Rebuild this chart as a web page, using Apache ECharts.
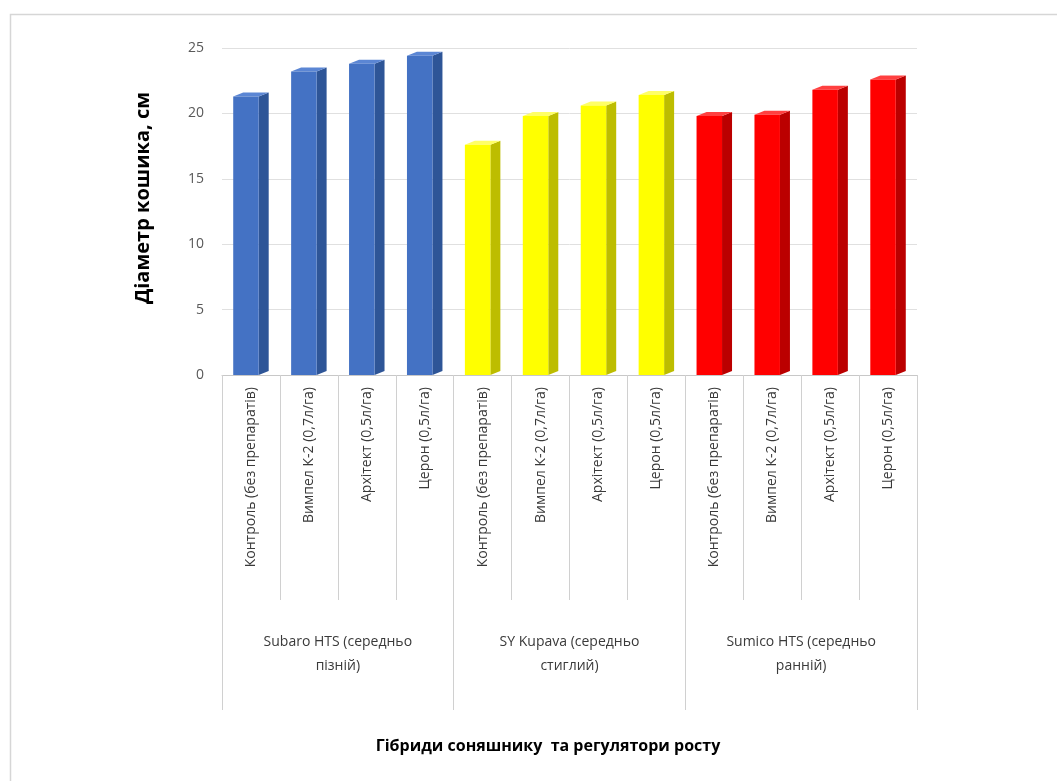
<!DOCTYPE html>
<html>
<head>
<meta charset="utf-8">
<script src="https://cdn.jsdelivr.net/npm/echarts@6/dist/echarts.min.js"></script>
<style>
html,body{margin:0;padding:0;background:#fff;}
#chart{width:1057px;height:781px;}
</style>
</head>
<body>
<div id="chart"></div>
<script>
// ---- data ----
const categories = [
  'Контроль (без препаратів)', 'Вимпел К-2 (0,7л/га)', 'Архітект (0,5л/га)', 'Церон (0,5л/га)',
  'Контроль (без препаратів)', 'Вимпел К-2 (0,7л/га)', 'Архітект (0,5л/га)', 'Церон (0,5л/га)',
  'Контроль (без препаратів)', 'Вимпел К-2 (0,7л/га)', 'Архітект (0,5л/га)', 'Церон (0,5л/га)'
];
const groups = ['Subaro HTS (середньо\nпізній)', 'SY Kupava (середньо\nстиглий)', 'Sumico HTS (середньо\nранній)'];
const subaroValues = [21.3, 23.2, 23.8, 24.4];
const kupavaValues = [17.6, 19.8, 20.6, 21.4];
const sumicoValues = [19.8, 19.9, 21.8, 22.6];
const yTicks = [0, 5, 10, 15, 20, 25];

const groupColors = [
  {front: '#4472C4', side: '#2E5597', top: '#5B86D4'},
  {front: '#FFFF00', side: '#BDBD00', top: '#FFFF66'},
  {front: '#FF0000', side: '#BB0000', top: '#FF4040'}
];

const allValues = subaroValues.concat(kupavaValues, sumicoValues);
const seriesData = allValues.map((v, i) => [i, v, Math.floor(i / 4)]);

const chart = echarts.init(document.getElementById('chart'));
const FONT = '"Open Sans", "DejaVu Sans", sans-serif';

function renderItem(params, api) {
  const idx = api.value(0);
  const val = api.value(1);
  const g = api.value(2);
  const base = api.coord([idx, 0]);
  const top = api.coord([idx, val]);
  const band = api.size([1, 0])[0];
  const bw = band * 0.44;
  const d = 10, dy = 4;
  const x0 = base[0] - bw / 2 - d / 2;
  const x1 = x0 + bw;
  const c = groupColors[g];
  return {
    type: 'group',
    children: [
      {type: 'polygon', shape: {points: [[x1, top[1]], [x1 + d, top[1] - dy], [x1 + d, base[1] - dy], [x1, base[1]]]},
       style: {fill: c.side}},
      {type: 'polygon', shape: {points: [[x0, top[1]], [x0 + d, top[1] - dy], [x1 + d, top[1] - dy], [x1, top[1]]]},
       style: {fill: c.top}},
      {type: 'rect', shape: {x: x0, y: top[1], width: bw, height: base[1] - top[1]},
       style: {fill: c.front}}
    ]
  };
}

const option = {
  backgroundColor: '#ffffff',
  animation: false,
  graphic: [
    {type: 'rect', left: 8, top: 12, shape: {width: 1100, height: 800},
     style: {fill: 'none', stroke: '#d6d6d6', lineWidth: 1.5}, z: -1},
    {type: 'text', x: 548, y: 746,
     style: {text: 'Гібриди соняшнику  та регулятори росту', font: 'bold 16px ' + FONT, fill: '#000', textAlign: 'center', textVerticalAlign: 'middle'}},
    {type: 'text', x: 143, y: 198, rotation: Math.PI / 2,
     style: {text: 'Діаметр кошика, см', font: 'bold 20px ' + FONT, fill: '#000', textAlign: 'center', textVerticalAlign: 'middle'}}
  ],
  grid: {left: 222, right: 140, top: 48, bottom: 406},
  xAxis: [
    {
      type: 'category',
      data: categories,
      axisLine: {show: true, lineStyle: {color: '#c8c8c8'}},
      axisTick: {show: true, length: 225, lineStyle: {color: '#d0d0d0'}},
      axisLabel: {rotate: 90, interval: 0, margin: 12, color: '#3a3a3a', fontSize: 14, fontFamily: FONT}
    },
    {
      type: 'category',
      data: groups,
      position: 'bottom',
      axisLine: {show: false},
      axisTick: {show: true, length: 335, lineStyle: {color: '#d0d0d0'}},
      axisLabel: {interval: 0, margin: 255, color: '#3a3a3a', fontSize: 14, lineHeight: 24, fontFamily: FONT}
    }
  ],
  yAxis: {
    type: 'value',
    min: 0, max: 25, interval: 5,
    axisLine: {show: false},
    axisTick: {show: false},
    splitLine: {lineStyle: {color: '#e0e0e0'}},
    axisLabel: {color: '#595959', fontSize: 14, margin: 18, fontFamily: FONT,
                formatter: v => yTicks.includes(v) ? String(v) : ''}
  },
  series: [{
    type: 'custom',
    renderItem: renderItem,
    encode: {x: 0, y: 1},
    data: seriesData
  }]
};
chart.setOption(option);
</script>
</body>
</html>
